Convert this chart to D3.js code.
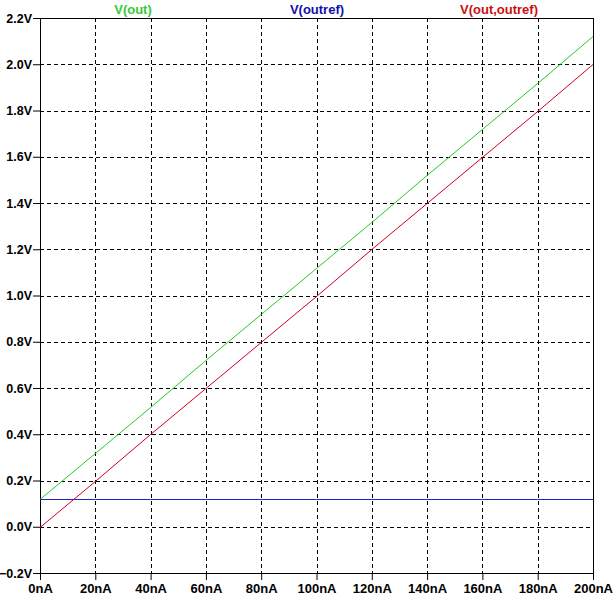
<!DOCTYPE html>
<html>
<head>
<meta charset="utf-8">
<script src="https://cdn.jsdelivr.net/npm/d3@7"></script>
<style>
  body { margin: 0; background: #fff; }
  svg text { font-family: "Liberation Sans", Arial, sans-serif; font-weight: bold; font-size: 13px; }
  .y.axis text { font-size: 12.5px; }
</style>
</head>
<body>
<div id="chart-area"></div>
<script>
// data (current in nA, voltages in V)
const current = [0, 20, 40, 60, 80, 100, 120, 140, 160, 180, 200]
const vOut = [0.12, 0.32, 0.52, 0.72, 0.92, 1.12, 1.32, 1.52, 1.72, 1.92, 2.12]
const vOutref = [0.12, 0.12, 0.12, 0.12, 0.12, 0.12, 0.12, 0.12, 0.12, 0.12, 0.12]
const vDiff = [0.0, 0.2, 0.4, 0.6, 0.8, 1.0, 1.2, 1.4, 1.6, 1.8, 2.0]

const xTicks = [0, 20, 40, 60, 80, 100, 120, 140, 160, 180, 200]
const yTicks = [-0.2, 0.0, 0.2, 0.4, 0.6, 0.8, 1.0, 1.2, 1.4, 1.6, 1.8, 2.0, 2.2]

const traceNames = ['V(out)', 'V(outref)', 'V(out,outref)']
const traceColors = ['#22cc22', '#2222cc', '#cc0022']
const labelColors = ['#33cc33', '#1010b0', '#cc1010']

const margin = { left: 40, right: 20, top: 18, bottom: 26 }
const width = 613 - margin.left - margin.right,
  height = 599 - margin.top - margin.bottom

let svg = d3.select('#chart-area')
  .append('svg')
  .attr('width', 613)
  .attr('height', 599)

let g = svg.append('g')
  .attr('transform', 'translate(' + margin.left + ',' + margin.top + ')')

let x = d3.scaleLinear().domain([0, 200]).range([0, width])
let y = d3.scaleLinear().domain([-0.2, 2.2]).range([height, 0])

// grid
g.append('g')
  .selectAll('line')
  .data(xTicks.slice(1, -1))
  .enter().append('line')
  .attr('x1', d => Math.round(x(d)) + 0.5)
  .attr('x2', d => Math.round(x(d)) + 0.5)
  .attr('y1', 0)
  .attr('y2', height)
  .attr('stroke', '#000')
  .attr('stroke-dasharray', '4,3')

g.append('g')
  .selectAll('line')
  .data(yTicks.slice(1, -1))
  .enter().append('line')
  .attr('y1', d => Math.round(y(d)) + 0.5)
  .attr('y2', d => Math.round(y(d)) + 0.5)
  .attr('x1', 0)
  .attr('x2', width)
  .attr('stroke', '#000')
  .attr('stroke-dasharray', '4,3')

// axes
let xAxisCall = d3.axisBottom(x)
  .tickValues(xTicks)
  .tickSize(7)
  .tickPadding(4)
  .tickFormat(d => d + 'nA')
let xAxisGroup = g.append('g')
  .attr('class', 'x axis')
  .attr('transform', 'translate(0,' + height + ')')
  .call(xAxisCall)

let yAxisCall = d3.axisLeft(y)
  .tickValues(yTicks)
  .tickSize(7)
  .tickPadding(1)
  .tickFormat(d => d3.format('.1f')(d) + 'V')
let yAxisGroup = g.append('g')
  .attr('class', 'y axis')
  .call(yAxisCall)

svg.selectAll('.domain').remove()
svg.selectAll('.tick line').attr('stroke', '#000')
svg.selectAll('.tick text').attr('fill', '#000')

// frame
g.append('rect')
  .attr('x', 0.5)
  .attr('y', 0.5)
  .attr('width', width)
  .attr('height', height)
  .attr('fill', 'none')
  .attr('stroke', '#000')

// traces
const series = [vOut, vOutref, vDiff]
let line = d3.line()
  .x((d, i) => x(current[i]))
  .y(d => Math.round(y(d)) + 0.5)

series.forEach((s, k) => {
  g.append('path')
    .datum(s)
    .attr('d', line)
    .attr('fill', 'none')
    .attr('stroke', traceColors[k])
    .attr('stroke-width', 1)
})

// trace labels
const labelX = [133, 317, 499]
traceNames.forEach((name, k) => {
  svg.append('text')
    .attr('x', labelX[k])
    .attr('y', 14)
    .attr('text-anchor', 'middle')
    .attr('fill', labelColors[k])
    .text(name)
})
</script>
</body>
</html>
